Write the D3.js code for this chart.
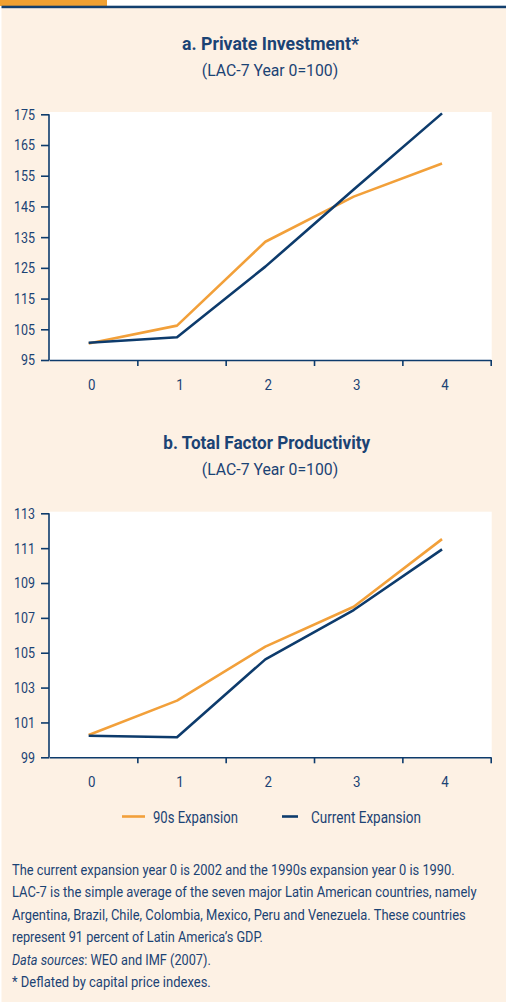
<!DOCTYPE html>
<html><head><meta charset="utf-8">
<script src="https://cdn.jsdelivr.net/npm/d3@7"></script>
<style>
body{margin:0;background:#fff}
svg{display:block}
text{font-family:Roboto,"Liberation Sans",sans-serif;fill:#1b4374}
</style>
</head><body><svg id="c" width="506" height="1002"></svg>
<script>
const years = ["0", "1", "2", "3", "4"];
const invest90s = [100.4, 106.2, 133.5, 148.2, 159.0];
const investCurrent = [100.6, 102.4, 125.4, 150.5, 175.3];
const tfp90s = [100.28, 102.25, 105.35, 107.64, 111.52];
const tfpCurrent = [100.24, 100.15, 104.62, 107.45, 110.93];
const investTicks = [95, 105, 115, 125, 135, 145, 155, 165, 175];
const tfpTicks = [99, 101, 103, 105, 107, 109, 111, 113];
const seriesNames = ["90s Expansion", "Current Expansion"];
const titles = ["a. Private Investment*", "b. Total Factor Productivity"];
const subtitle = "(LAC-7 Year 0=100)";
const footLines = [
  "The current expansion year 0 is 2002 and the 1990s expansion year 0 is 1990.",
  "LAC-7 is the simple average of the seven major Latin American countries, namely",
  "Argentina, Brazil, Chile, Colombia, Mexico, Peru and Venezuela. These countries",
  "represent 91 percent of Latin America\u2019s GDP."
];

const ORANGE = "#f2a03a", NAVY = "#0d3b6c", BEIGE = "#fdf1e4", TXT = "#1b4374";
const svg = d3.select("#c");

// condense a text horizontally to a target width (simulates a condensed face)
function fit(sel, w) {
  const node = sel.node();
  const n = node.getComputedTextLength();
  const k = w / n;
  const x = +sel.attr("x") || 0, y = +sel.attr("y") || 0;
  sel.attr("x", 0).attr("y", 0).attr("transform", `translate(${x},${y}) scale(${k},1)`);
  return sel;
}

// frame
svg.append("rect").attr("x", 1.5).attr("y", 8).attr("width", 504.5).attr("height", 994).attr("fill", BEIGE);
svg.append("rect").attr("x", 0).attr("y", 0).attr("width", 107).attr("height", 6).attr("fill", "#f0a031");
svg.append("rect").attr("x", 1.5).attr("y", 5.7).attr("width", 504.5).attr("height", 2.5).attr("fill", "#123f6e");

function panel(cfg) {
  const g = svg.append("g");
  const left = 49, right = 490.7;
  g.append("rect").attr("x", left).attr("y", cfg.plotTop).attr("width", right + 1 - left)
    .attr("height", cfg.axisY - cfg.plotTop).attr("fill", "#fff");

  fit(g.append("text").attr("x", cfg.titleX).attr("y", cfg.titleY).attr("text-anchor", "middle")
    .style("font-size", "19px").style("font-weight", "bold").text(cfg.title), cfg.titleW);
  fit(g.append("text").attr("x", 270).attr("y", cfg.titleY + 26).attr("text-anchor", "middle")
    .style("font-size", "17px").text(subtitle), 136.5);

  const x = d3.scaleBand().domain(years).range([left, right]).padding(0);
  const xb = d3.scaleLinear().domain([0, years.length]).range([left, right]);
  const y = d3.scaleLinear().domain(cfg.domain).range([cfg.axisY, cfg.topTickY]);

  const px = d => x(d) + x.bandwidth() / 2 - 4.5;
  const line = vals => d3.line().x((v, i) => px(years[i])).y(v => y(v))(vals);

  g.append("path").attr("d", line(cfg.s90)).attr("fill", "none").attr("stroke", ORANGE)
    .attr("stroke-width", 2.6).attr("stroke-linejoin", "round");
  g.append("path").attr("d", line(cfg.sCur)).attr("fill", "none").attr("stroke", NAVY)
    .attr("stroke-width", 2.6).attr("stroke-linejoin", "round");

  // y axis
  const ya = g.append("g").attr("transform", `translate(${left},0)`)
    .call(d3.axisLeft(y).tickValues(cfg.ticks).tickSize(8).tickPadding(6).tickSizeOuter(0));
  ya.attr("font-family", null).attr("font-size", null);
  ya.select(".domain").attr("stroke", NAVY).attr("stroke-width", 1.6)
    .attr("d", `M0,${cfg.axisY}V${cfg.topTickY}`);
  ya.selectAll(".tick line").attr("stroke", NAVY).attr("stroke-width", 1.6);
  ya.selectAll(".tick text").style("font-size", "15.5px").attr("fill", TXT)
    .each(function() { fit(d3.select(this), this.textContent.length * 7); });

  // x axis boundary ticks
  const xa = g.append("g").attr("transform", `translate(0,${cfg.axisY})`)
    .call(d3.axisBottom(xb).tickValues(d3.range(1, years.length + 1)).tickSize(6).tickSizeOuter(0).tickFormat(""));
  xa.attr("font-family", null);
  xa.select(".domain").attr("stroke", NAVY).attr("stroke-width", 1.6);
  xa.selectAll(".tick line").attr("stroke", NAVY).attr("stroke-width", 1.6);

  const xl = g.append("g").attr("transform", `translate(-1.5,${cfg.axisY})`)
    .call(d3.axisBottom(x).tickSize(0).tickPadding(19));
  xl.attr("font-family", null).attr("font-size", null);
  xl.select(".domain").remove();
  xl.selectAll(".tick text").style("font-size", "15.5px").attr("fill", TXT)
    .each(function() { fit(d3.select(this), 7.5); });
}

panel({title: titles[0], titleX: 270.5, titleW: 177, titleY: 50, plotTop: 112, axisY: 360, topTickY: 114.3,
  domain: [95, 175], ticks: investTicks, s90: invest90s, sCur: investCurrent});
panel({title: titles[1], titleX: 266.7, titleW: 207, titleY: 448.5, plotTop: 511.7, axisY: 757.3, topTickY: 513.3,
  domain: [99, 113], ticks: tfpTicks, s90: tfp90s, sCur: tfpCurrent});

// legend
const leg = svg.append("g");
const legItems = [{name: seriesNames[0], color: ORANGE, x1: 122, x2: 145, tx: 153, w: 85},
                  {name: seriesNames[1], color: NAVY, x1: 282, x2: 298, tx: 311, w: 110}];
legItems.forEach(d => {
  leg.append("line").attr("x1", d.x1).attr("x2", d.x2).attr("y1", 816.5).attr("y2", 816.5)
    .attr("stroke", d.color).attr("stroke-width", 2.6);
  fit(leg.append("text").attr("x", d.tx).attr("y", 822.5).style("font-size", "16.5px").text(d.name), d.w);
});

// footnotes
const fy0 = 875, fdy = 22.4;
const footW = [443, 465, 454, 251];
footLines.forEach((t, i) => {
  fit(svg.append("text").attr("x", 12).attr("y", fy0 + i * fdy).style("font-size", "15.5px").text(t), footW[i]);
});
const src = svg.append("text").attr("x", 12).attr("y", fy0 + 4 * fdy).style("font-size", "15.5px");
src.append("tspan").style("font-style", "italic").text("Data sources");
src.append("tspan").text(": WEO and IMF (2007).");
fit(src, 199);
fit(svg.append("text").attr("x", 12).attr("y", fy0 + 5 * fdy).style("font-size", "15.5px")
  .text("* Deflated by capital price indexes."), 199);
</script>
</body></html>
